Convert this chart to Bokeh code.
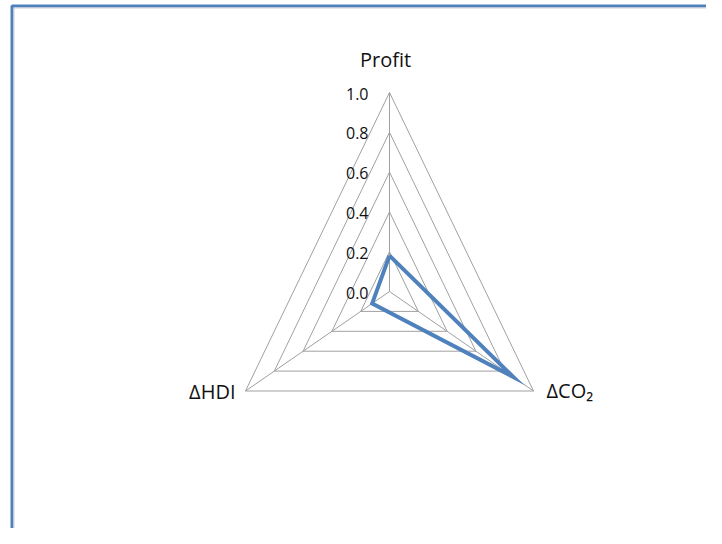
import numpy as np
from bokeh.plotting import figure
from bokeh.models import Range1d, ColumnDataSource
from bokeh.core.properties import value
from bokeh.embed import file_html
from bokeh.resources import INLINE

# ---- data ----
categories = ["Profit", "ΔCO₂", "ΔHDI"]
series_values = [0.18, 0.86, 0.12]
tick_values = [0.0, 0.2, 0.4, 0.6, 0.8, 1.0]
tick_labels = ["0.0", "0.2", "0.4", "0.6", "0.8", "1.0"]

# ---- geometry (pixels relative to the figure's top-left) ----
W, H = 706, 528
CX, CY = 389.0, 291.0
KX, KY = 166.3, 199.0   # pixels per unit in x and y

p = figure(width=W, height=H, output_backend="svg", toolbar_location=None,
           x_range=Range1d(-CX / KX, (W - CX) / KX),
           y_range=Range1d(-(H - CY) / KY, CY / KY),
           min_border=0)
p.axis.visible = False
p.xgrid.visible = False
p.ygrid.visible = False
p.outline_line_color = None
p.background_fill_color = "white"
p.border_fill_color = "white"

def px_to_x(px):
    return (px - CX) / KX

def px_to_y(py):
    return (CY - py) / KY

n = len(categories)
ang = np.array([2 * np.pi * i / n for i in range(n)])
sx = np.sin(ang)
cy_ = np.cos(ang)

# frame (Excel chart area border)
big = 10.0
p.line([px_to_x(11.5), px_to_x(11.5), big], [-big, px_to_y(5.5), px_to_y(5.5)],
       line_color="#4F81BD", line_width=3)
p.line([px_to_x(13.5), px_to_x(13.5), big], [-big, px_to_y(7.5), px_to_y(7.5)],
       line_color="#D0D0D0", line_width=1)

# grid rings
grid_col = "#A0A0A0"
for t in tick_values[1:]:
    xs = list(t * sx) + [t * sx[0]]
    ys = list(t * cy_) + [t * cy_[0]]
    p.line(xs, ys, line_color=grid_col, line_width=1)
# spokes
top = max(tick_values)
p.multi_line([[0, top * sx[i]] for i in range(n)], [[0, top * cy_[i]] for i in range(n)],
             line_color=grid_col, line_width=1)

# data series
v = np.array(series_values)
p.line(list(v * sx) + [v[0] * sx[0]], list(v * cy_) + [v[0] * cy_[0]],
       line_color="#4F81BD", line_width=4, line_join="miter")

# tick labels along the top spoke
tsrc = ColumnDataSource(dict(x=[0.0] * len(tick_values), y=tick_values, t=tick_labels))
p.text(x="x", y="y", text="t", source=tsrc, x_offset=-21, y_offset=1,
       text_align="right", text_baseline="middle", text_font=value("Open Sans"),
       text_font_size="16px", text_color="#111111")

# category labels
lx = list(top * sx)
ly = list(top * cy_)
csrc = ColumnDataSource(dict(x=lx, y=ly, t=categories,
                             xo=[-4, 13, -10], yo=[-33, -1, 0],
                             al=["center", "left", "right"]))
p.text(x="x", y="y", text="t", source=csrc, x_offset="xo", y_offset="yo",
       text_align="al", text_baseline="middle", text_font=value("Open Sans"),
       text_font_size="20px", text_color="#111111")

open("out.html", "w").write(file_html(p, INLINE))
